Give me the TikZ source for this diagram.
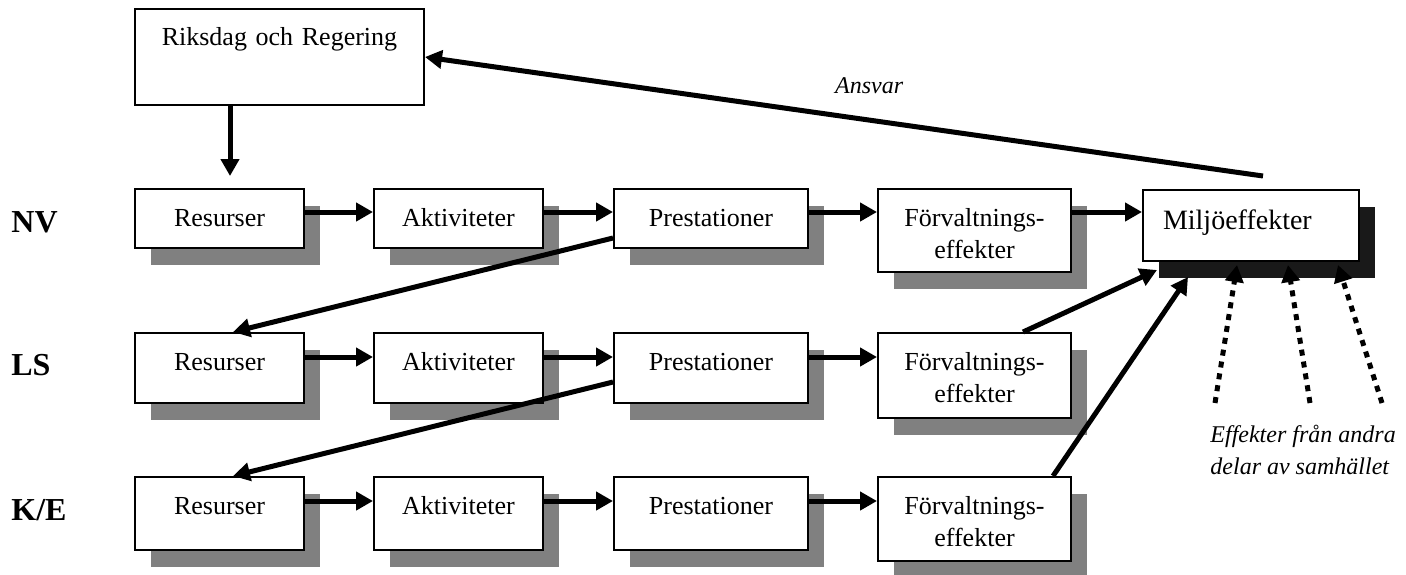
\documentclass[tikz,border=0pt]{standalone}
\usepackage{fontspec}
\setmainfont{Liberation Serif}
\usetikzlibrary{arrows.meta,calc,shadows}
\newcommand{\myunit}{0.5pt}
\tikzset{
    node style plain/.style={draw,fill=white,line width=1pt,inner xsep=2pt,inner ysep=0pt,anchor=north west,
                             align=center,text height=18.5pt,font=\fontsize{13}{16}\selectfont},
    node style box/.style={node style plain,drop shadow={shadow xshift=8pt,shadow yshift=-8.5pt,opacity=1,fill=black!50}},
    node style dark/.style={node style plain,drop shadow={shadow xshift=8pt,shadow yshift=-8.5pt,opacity=1,fill=black!90}},
    node style row/.style={inner sep=0pt,anchor=base west,font=\fontsize{16}{19}\selectfont\bfseries},
    node style note/.style={inner sep=0pt,font=\fontsize{12}{16}\selectfont\itshape},
    arrow style thick/.style={line width=2.5pt,-{Triangle[length=8.5pt,width=9pt]}},
    arrow style dot/.style={arrow style thick,dash pattern=on 3pt off 3pt},
}
\begin{document}
\begin{tikzpicture}[x=\myunit,y=-\myunit]
\useasboundingbox (0,0) rectangle (1406,574);

\node[node style plain,text width=140.5pt,text height=18pt,text depth=30pt] (riks) at (134,8) {Riksdag och Regering};

\node[node style row] (nv) at (11,232) {NV};
\node[node style row] (ls) at (11,375) {LS};
\node[node style row] (ke) at (11,520) {K/E};

\node[node style box,text width=80.5pt,text depth=11pt] (nvR) at (134,188) {Resurser};
\node[node style box,text width=80.5pt,text depth=11pt] (nvA) at (373,188) {Aktiviteter};
\node[node style box,text width=93pt,text depth=11pt] (nvP) at (613,188) {Prestationer};
\node[node style box,text width=92.5pt,text depth=23pt] (nvF) at (877,188) {Förvaltnings-\\effekter};
\node[node style dark,text width=88pt,inner xsep=10pt,align=left,text height=19.5pt,text depth=16pt,
      font=\fontsize{14}{17}\selectfont] (milj) at (1142,189) {Miljöeffekter};

\node[node style box,text width=80.5pt,text depth=16.5pt] (lsR) at (134,332) {Resurser};
\node[node style box,text width=80.5pt,text depth=16.5pt] (lsA) at (373,332) {Aktiviteter};
\node[node style box,text width=93pt,text depth=16.5pt] (lsP) at (613,332) {Prestationer};
\node[node style box,text width=92.5pt,text depth=24pt] (lsF) at (877,332) {Förvaltnings-\\effekter};

\node[node style box,text width=80.5pt,text depth=18pt] (keR) at (134,476) {Resurser};
\node[node style box,text width=80.5pt,text depth=18pt] (keA) at (373,476) {Aktiviteter};
\node[node style box,text width=93pt,text depth=18pt] (keP) at (613,476) {Prestationer};
\node[node style box,text width=92.5pt,text depth=23.5pt] (keF) at (877,476) {Förvaltnings-\\effekter};

\node[node style note,anchor=west,align=left] (effekter) at (1210,450) {Effekter från andra\\delar av samhället};

\draw[arrow style thick] ($(riks.south west)+(96,0)$) -- ($(nvR.north west)+(96,-12)$);
\draw[arrow style thick] ($(milj.north)+(12,-13)$) -- node[node style note,pos=0.47,yshift=17pt] (ansvar) {Ansvar} (riks.east);

\draw[arrow style thick] ([yshift=-12pt]nvR.north east) -- ([yshift=-12pt]nvA.north west);
\draw[arrow style thick] ([yshift=-12pt]nvA.north east) -- ([yshift=-12pt]nvP.north west);
\draw[arrow style thick] ([yshift=-12pt]nvP.north east) -- ([yshift=-12pt]nvF.north west);
\draw[arrow style thick] ([yshift=-12pt]nvF.north east) -- ([yshift=-11.5pt]milj.north west);

\draw[arrow style thick] ([yshift=-12.5pt]lsR.north east) -- ([yshift=-12.5pt]lsA.north west);
\draw[arrow style thick] ([yshift=-12.5pt]lsA.north east) -- ([yshift=-12.5pt]lsP.north west);
\draw[arrow style thick] ([yshift=-12.5pt]lsP.north east) -- ([yshift=-12.5pt]lsF.north west);

\draw[arrow style thick] ([yshift=-12.5pt]keR.north east) -- ([yshift=-12.5pt]keA.north west);
\draw[arrow style thick] ([yshift=-12.5pt]keA.north east) -- ([yshift=-12.5pt]keP.north west);
\draw[arrow style thick] ([yshift=-12.5pt]keP.north east) -- ([yshift=-12.5pt]keF.north west);

\draw[arrow style thick] ($(nvP.south west)+(0,-11)$) -- ($(lsR.north west)+(99,0)$);
\draw[arrow style thick] ($(lsP.south west)+(0,-22)$) -- ($(keR.north west)+(99,0)$);

\draw[arrow style thick] ($(lsF.north west)+(146,0)$) -- ($(milj.south west)+(15,8)$);
\draw[arrow style thick] ($(keF.north west)+(176,0)$) -- ($(milj.south west)+(46,15)$);

\coordinate (e1) at (1215,403);
\coordinate (e2) at (1310,403);
\coordinate (e3) at (1382,403);
\draw[arrow style dot] (e1) -- ($(milj.south west)+(95,3)$);
\draw[arrow style dot] (e2) -- ($(milj.south west)+(146,3)$);
\draw[arrow style dot] (e3) -- ($(milj.south west)+(196,3)$);

\end{tikzpicture}
\end{document}
